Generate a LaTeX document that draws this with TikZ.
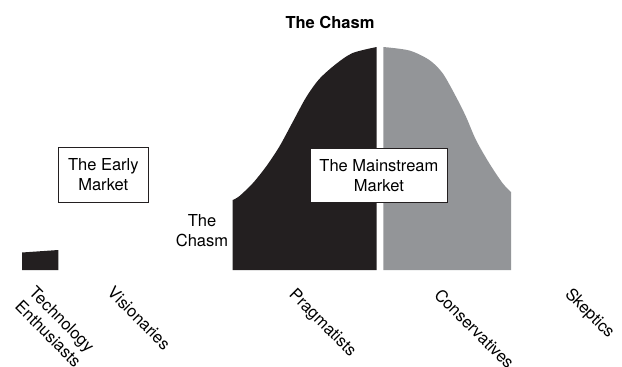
\documentclass[tikz,border=0pt]{standalone}
\usepackage{fontspec}
\setmainfont{TeX Gyre Heros}
\definecolor{earlyink}{HTML}{231F20}
\definecolor{lateink}{HTML}{939598}
\begin{document}
\begin{tikzpicture}[x=1pt,y=-1pt,
  txt/.style={font=\fontsize{16.5}{20}\selectfont, inner sep=0pt, align=center},
  marketbox/.style={txt, draw=earlyink, line width=0.8pt, fill=white},
  segment/.style={txt, rotate=-45, anchor=north west, align=left}]
\useasboundingbox (0,0) rectangle (622,367);

% adoption curve: early majority (dark) and late majority (grey)
\fill[earlyink] (232.7,270) --
  plot[smooth] coordinates {(232.7,200) (239.3,196.2) (252.7,183.3) (266,166.7)
    (279.3,146.7) (292.7,122) (306,97.5) (319.3,79) (336,64) (352.7,53) (376.7,47)}
  -- (376.7,270) -- cycle;
\fill[lateink] (383.3,270) --
  plot[smooth] coordinates {(383.3,47) (409.3,50.5) (429.3,60) (442.7,73.3) (456,96.7)
    (466,116.7) (476,140) (489.3,163.3) (502.7,183.3) (511,192)}
  -- (511,270) -- cycle;

% innovators
\fill[earlyink] (22,270) -- (22,252.5) .. controls (40,251.5) .. (58.3,250) -- (58.3,270) -- cycle;

% titles and boxes
\node[txt, font=\fontsize{16.5}{20}\selectfont\bfseries] (title) at (330,22) {The Chasm};
\node[marketbox, minimum width=90pt, minimum height=55pt] (early) at (103.3,174.8) {The Early\\Market};
\node[marketbox, minimum width=137.7pt, minimum height=54pt] (main) at (378.9,175.3) {The Mainstream\\Market};
\node[txt] (gap) at (202,231) {The\\Chasm};

% adopter segments
\node[segment] (tech) at (36.7,285) {Technology\\Enthusiasts};
\node[segment] (vis) at (115,285) {Visionaries};
\node[segment] (prag) at (297,287) {Pragmatists};
\node[segment] (cons) at (442,287) {Conservatives};
\node[segment] (skep) at (573,286) {Skeptics};
\end{tikzpicture}
\end{document}
